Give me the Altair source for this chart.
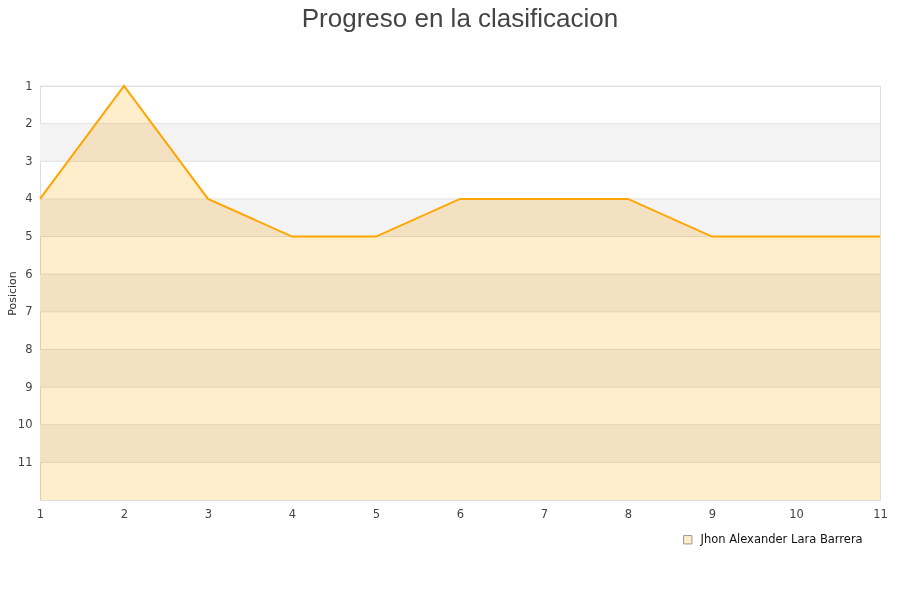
import altair as alt
import pandas as pd

jornadas = [1, 2, 3, 4, 5, 6, 7, 8, 9, 10, 11]
posiciones = [4, 1, 4, 5, 5, 4, 4, 4, 5, 5, 5]
jugador = "Jhon Alexander Lara Barrera"
band_lo = [2, 4, 6, 8, 10]
band_hi = [3, 5, 7, 9, 11]
grid_vals = [1, 2, 3, 4, 5, 6, 7, 8, 9, 10, 11]

W, H = 840, 414

df = pd.DataFrame({"jornada": jornadas, "pos": posiciones, "jugador": jugador, "base": 12})
bands = pd.DataFrame({"lo": band_lo, "hi": band_hi})
grid = pd.DataFrame({"g": grid_vals})

yscale = alt.Scale(domain=[1, 12], reverse=True, nice=False, zero=False)
xscale = alt.Scale(domain=[1, 11], nice=False, zero=False)

common = dict(labelFont="DejaVu Sans", labelFontSize=11.5, labelColor="#444444",
              titleFont="DejaVu Sans", titleFontSize=11, titleFontWeight="normal",
              titleColor="#333333", grid=False, ticks=False, domain=False, format="d",
              labelFlush=False)

yaxis = alt.Axis(values=grid_vals, title="Posicion", labelPadding=8,
                 titleX=-23, titleBaseline="bottom", **common)
xaxis = alt.Axis(values=jornadas, title=None, labelPadding=8, **common)

band_layer = alt.Chart(bands).mark_rect(color="#f3f3f3").encode(
    y=alt.Y("lo:Q", scale=yscale, axis=yaxis),
    y2="hi:Q",
    x=alt.value(0),
    x2=alt.value(W),
)

grid_layer = alt.Chart(grid).mark_rule(color="#e2e2e2", strokeWidth=1).encode(
    y=alt.Y("g:Q", scale=yscale, axis=yaxis),
    x=alt.value(0),
    x2=alt.value(W),
)

area = alt.Chart(df).mark_area(blend="multiply", opacity=1).encode(
    x=alt.X("jornada:Q", scale=xscale, axis=xaxis),
    y=alt.Y("pos:Q", scale=yscale, axis=yaxis),
    y2="base:Q",
    color=alt.Color("jugador:N", scale=alt.Scale(range=["#ffedcc"]),
                    legend=alt.Legend(title=None, orient="none", legendX=642, legendY=448,
                                      symbolType="square", symbolSize=70,
                                      symbolStrokeColor="#999999", symbolStrokeWidth=1,
                                      labelFont="DejaVu Sans", labelFontSize=11.5,
                                      labelColor="#111111", labelOffset=7, labelLimit=400)),
)

line = alt.Chart(df).mark_line(color="#ffa500", strokeWidth=2).encode(
    x=alt.X("jornada:Q", scale=xscale, axis=xaxis),
    y=alt.Y("pos:Q", scale=yscale, axis=yaxis),
)

chart = alt.layer(band_layer, grid_layer, area, line).properties(
    width=W, height=H,
    background="white",
    title=alt.TitleParams("Progreso en la clasificacion", font="Liberation Sans",
                          fontSize=26, fontWeight="normal", color="#444444",
                          anchor="middle", offset=48),
    padding={"left": 32, "top": 78, "right": 12, "bottom": 60},
    autosize=alt.AutoSizeParams(type="none"),
).configure_view(stroke="#dddddd", strokeWidth=1)

chart.save("out.html", embed_options={"renderer": "svg", "actions": False})
